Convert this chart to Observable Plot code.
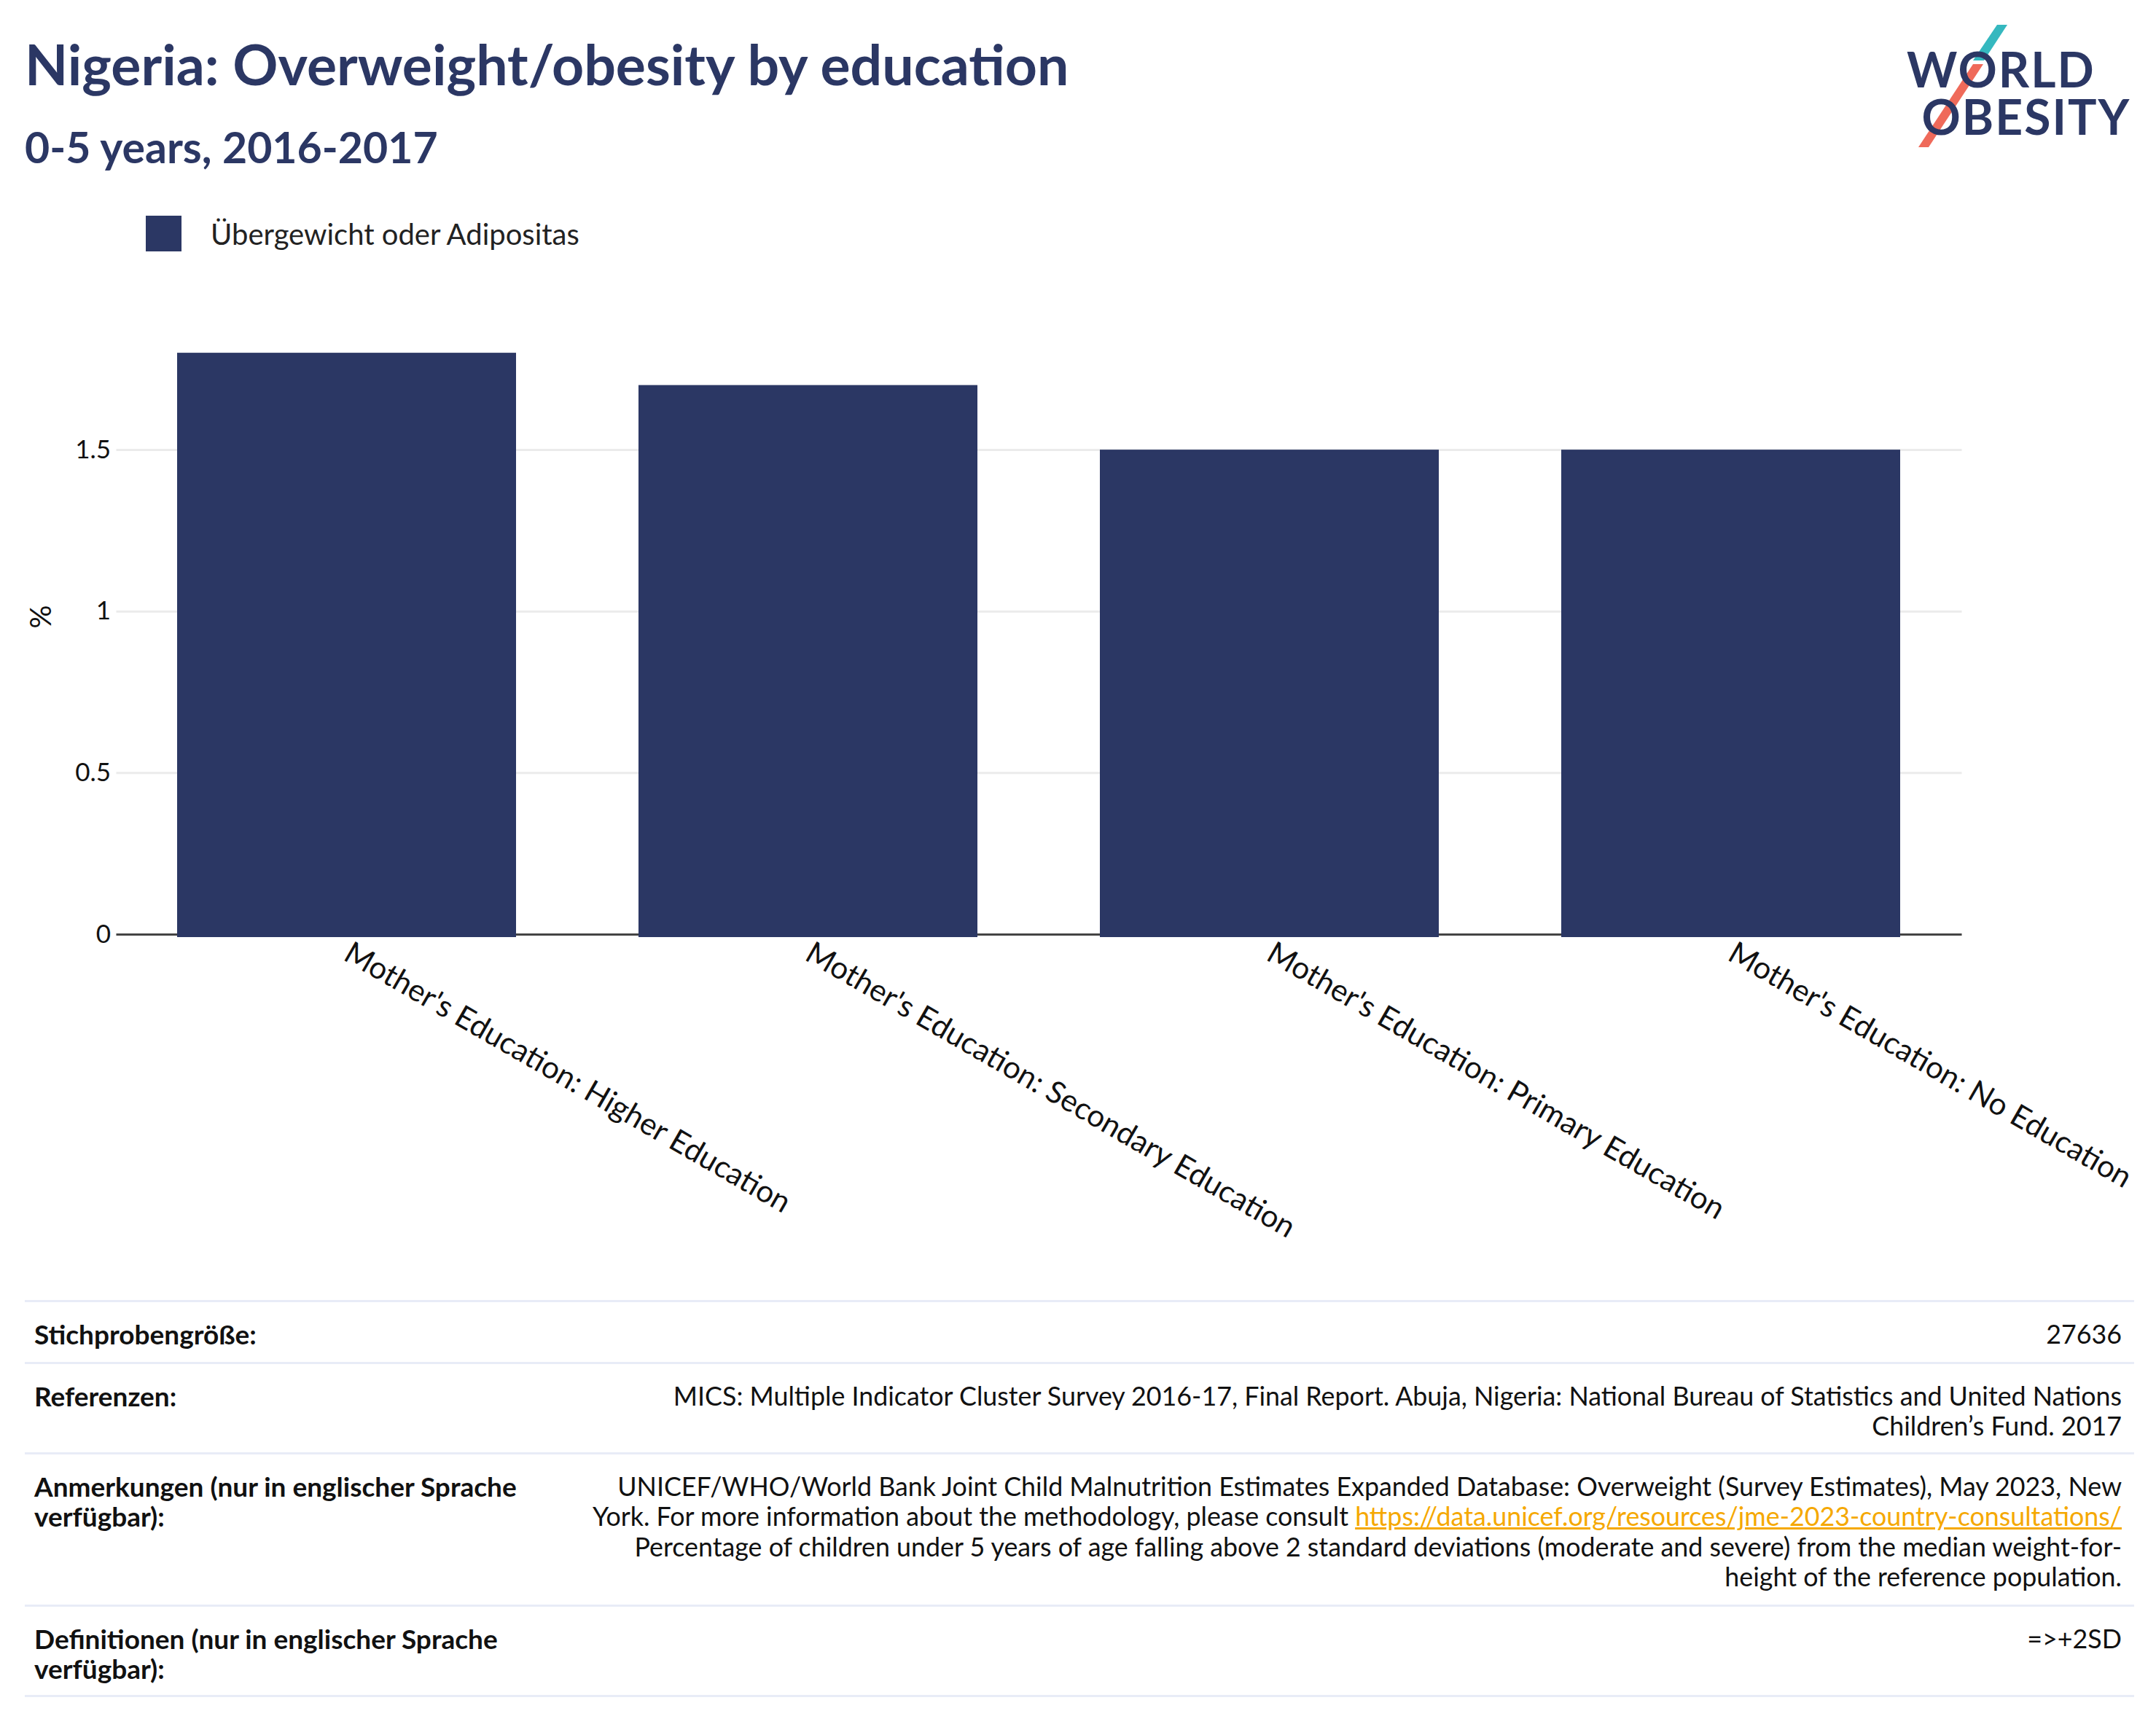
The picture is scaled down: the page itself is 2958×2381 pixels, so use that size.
<!DOCTYPE html>
<html>
<head>
<meta charset="utf-8">
<script src="https://cdn.jsdelivr.net/npm/d3@7"></script>
<script src="https://cdn.jsdelivr.net/npm/@observablehq/plot@0.6"></script>
<style>
  html, body { margin: 0; padding: 0; background: #fff; }
  body { width: 2958px; height: 2381px; position: relative; overflow: hidden; font-family: Lato, "Noto Sans", sans-serif; color: #111; }
  .title { position: absolute; left: 34px; top: 49px; font-size: 77px; line-height: 77px; font-weight: 700; color: #2b3764; white-space: nowrap; }
  .subtitle { position: absolute; left: 34px; top: 172px; font-size: 59px; line-height: 59px; font-weight: 700; color: #2b3764; white-space: nowrap; }
  .legend { position: absolute; left: 200px; top: 296px; height: 49px; display: flex; align-items: center; font-size: 40px; color: #222; }
  .legend .sw { width: 49px; height: 49px; background: #2b3764; margin-right: 40px; }
  #chart { position: absolute; left: 0; top: 400px; }
  .logo { position: absolute; left: 2590px; top: 0; width: 368px; height: 230px; }
  .logo .w { position: absolute; left: 26px; top: 62px; font-family: Lato, sans-serif; font-weight: 700; font-size: 66px; line-height: 65px; color: #2b3764; letter-spacing: 2px; white-space: pre; }
  .table { position: absolute; left: 34px; top: 1784px; width: 2894px; line-height: 41.5px; color: #111; }
  .row { border-top: 3px solid #e8ecf7; display: flex; justify-content: space-between; padding: 23px 17px 17px 13px; }
  .row:nth-child(2) { padding-bottom: 15px; }
  .row:last-child { border-bottom: 3px solid #e8ecf7; padding-bottom: 15px; }
  .row .k { font-weight: 700; white-space: nowrap; font-size: 37px; }
  .row .v { text-align: right; white-space: nowrap; font-size: 35.8px; }
  .row a { color: #f5a800; text-decoration: underline; }
</style>
</head>
<body>
<div class="title" id="title"></div>
<div class="subtitle" id="subtitle"></div>
<div class="legend"><div class="sw"></div><span id="legendLabel"></span></div>
<div class="logo">
  <svg width="368" height="230" style="position:absolute;left:0;top:0">
    <polygon points="150,34 164,34 132,83 117,83" fill="#35b8bf"/>
    <polygon points="117,88 131,88 56,202 42,202" fill="#ef6a5a"/>
  </svg>
  <div class="w" id="logoText"></div>
</div>
<div id="chart"></div>
<div class="table" id="table"></div>
<script>
const titleText = "Nigeria: Overweight/obesity by education";
const subtitleText = "0-5 years, 2016-2017";
const seriesName = "Übergewicht oder Adipositas";
const logoText = "WORLD\n\u2009\u2009OBESITY";
const categories = [
  "Mother's Education: Higher Education",
  "Mother's Education: Secondary Education",
  "Mother's Education: Primary Education",
  "Mother's Education: No Education"
];
const values = [1.8, 1.7, 1.5, 1.5];
const yTicks = [0, 0.5, 1, 1.5];
const yLabel = "%";
const tableKeys = [
  "Stichprobengröße:",
  "Referenzen:",
  "Anmerkungen (nur in englischer Sprache<br>verfügbar):",
  "Definitionen (nur in englischer Sprache<br>verfügbar):"
];
const tableValues = [
  "27636",
  "MICS: Multiple Indicator Cluster Survey 2016-17, Final Report. Abuja, Nigeria: National Bureau of Statistics and United Nations<br>Children’s Fund. 2017",
  "UNICEF/WHO/World Bank Joint Child Malnutrition Estimates Expanded Database: Overweight (Survey Estimates), May 2023, New<br>York. For more information about the methodology, please consult <a href=\"https://data.unicef.org/resources/jme-2023-country-consultations/\">https://data.unicef.org/resources/jme-2023-country-consultations/</a><br>Percentage of children under 5 years of age falling above 2 standard deviations (moderate and severe) from the median weight-for-<br>height of the reference population.",
  "=>+2SD"
];

document.getElementById("title").textContent = titleText;
document.getElementById("subtitle").textContent = subtitleText;
document.getElementById("legendLabel").textContent = seriesName;
document.getElementById("logoText").textContent = logoText;

const data = categories.map((c, i) => ({category: c, value: values[i]}));

const chart = Plot.plot({
  width: 2958,
  height: 1360,
  marginLeft: 159.5,
  marginRight: 266.5,
  marginTop: 42,
  marginBottom: 478,
  style: { fontFamily: "Lato, 'Noto Sans', sans-serif", background: "#fff", color: "#111" },
  x: { domain: categories, paddingInner: 0.265, paddingOuter: 0.1325, label: null },
  y: { domain: [0, 1.895], label: null },
  marks: [
    Plot.gridY(yTicks, { stroke: "#ebebeb", strokeOpacity: 1, strokeWidth: 3 }),
    Plot.ruleY([0], { stroke: "#444", strokeWidth: 3 }),
    Plot.barY(data, { x: "category", y: "value", fill: "#2b3764", insetBottom: -4 }),
    Plot.axisY({ ticks: yTicks, tickSize: 0, tickPadding: 8, tickFormat: d => String(d), fontSize: 35, label: null }),
    Plot.text([yLabel], { frameAnchor: "left", dx: -103, rotate: -90, fontSize: 40, fill: "#111" }),
    Plot.axisX({ tickSize: 0, tickPadding: 22, tickRotate: 30, fontSize: 42, label: null, lineWidth: 100 })
  ]
});
document.getElementById("chart").appendChild(chart);

const table = document.getElementById("table");
tableKeys.forEach((k, i) => {
  const row = document.createElement("div");
  row.className = "row";
  row.innerHTML = `<div class="k">${k}</div><div class="v">${tableValues[i]}</div>`;
  table.appendChild(row);
});
</script>
</body>
</html>
